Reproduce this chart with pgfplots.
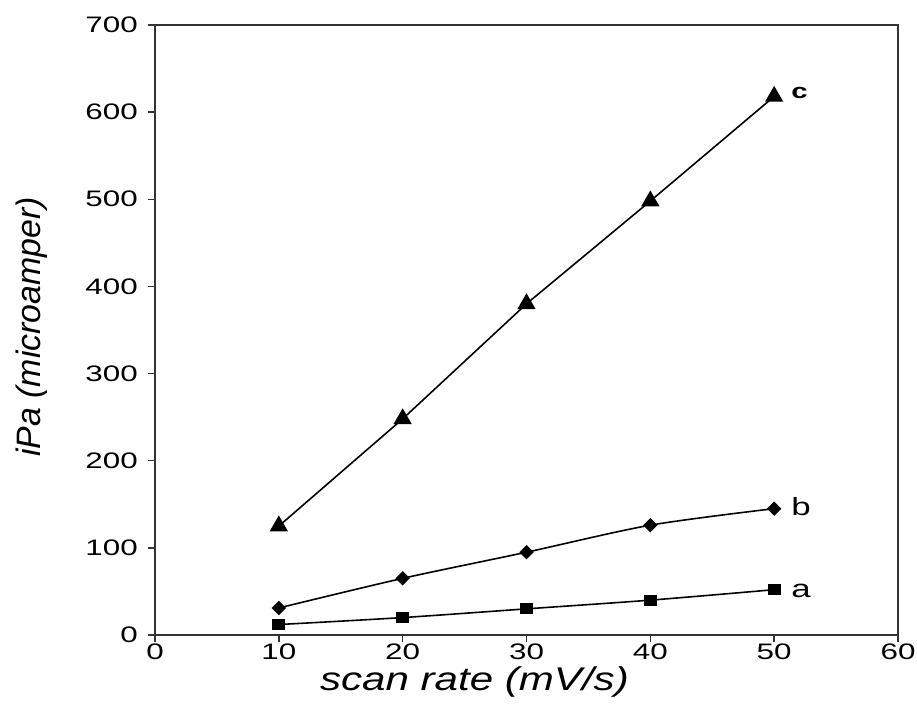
\documentclass[border=0pt]{standalone}
\usepackage{pgfplots}
\pgfplotsset{compat=1.18}
\usepackage{fontspec}
\setmainfont{Liberation Sans}
\newfontfamily\tickfont[FakeStretch=1.4]{Liberation Sans}
\newfontfamily\xlabfont[FakeStretch=1.28]{Liberation Sans}
\begin{document}
\begin{tikzpicture}[x=1bp,y=1bp]
\path[use as bounding box] (0,0) rectangle (917,715);
\begin{axis}[
  at={(155bp,80bp)}, anchor=south west,
  scale only axis, width=743bp, height=610bp,
  xmin=0, xmax=60, ymin=0, ymax=700,
  xtick={0,10,...,60}, ytick={0,100,...,700},
  axis line style={line width=2.4pt, black!80},
  tick style={line width=1.4pt, black!80},
  tick align=outside, major tick length=7bp,
  xtick pos=bottom, ytick pos=left,
  /pgf/number format/assume math mode=true,
  tick label style={font=\tickfont\fontsize{22.5}{25}\selectfont},
  xticklabel style={inner sep=2bp},
  yticklabel style={inner sep=10bp},
  xlabel={\xlabfont\itshape scan rate (mV/s)},
  ylabel={\itshape iPa (microamper)},
  xlabel style={font=\fontsize{33}{36}\selectfont, at={(axis description cs:0.43,-0.052)}, anchor=north, inner sep=0pt},
  ylabel style={font=\fontsize{34}{36}\selectfont, at={(axis description cs:-0.145,0.505)}, anchor=south, inner sep=0pt},
  clip=false,
]
\addplot[black, line width=1.6pt, mark=triangle*, mark size=9bp] coordinates {(10,125) (20,248) (30,380) (40,498) (50,618)};
\addplot[black, line width=1.6pt, smooth, mark=square*, mark options={rotate=45}, mark size=4.3bp] coordinates {(10,31) (20,65) (30,95) (40,126) (50,145)};
\addplot[black, line width=1.6pt, smooth, mark=square*, mark options={xscale=1.25}, mark size=4.6bp] coordinates {(10,12) (20,20) (30,30) (40,40) (50,52)};
\node[anchor=west, font=\bfseries\tickfont\fontsize{21}{24}\selectfont] at (axis cs:51.1,622) {c};
\node[anchor=west, font=\tickfont\fontsize{25}{26}\selectfont] at (axis cs:51.1,147) {b};
\node[anchor=west, font=\tickfont\fontsize{25}{26}\selectfont] at (axis cs:51.1,51) {a};
\end{axis}
\end{tikzpicture}
\end{document}
